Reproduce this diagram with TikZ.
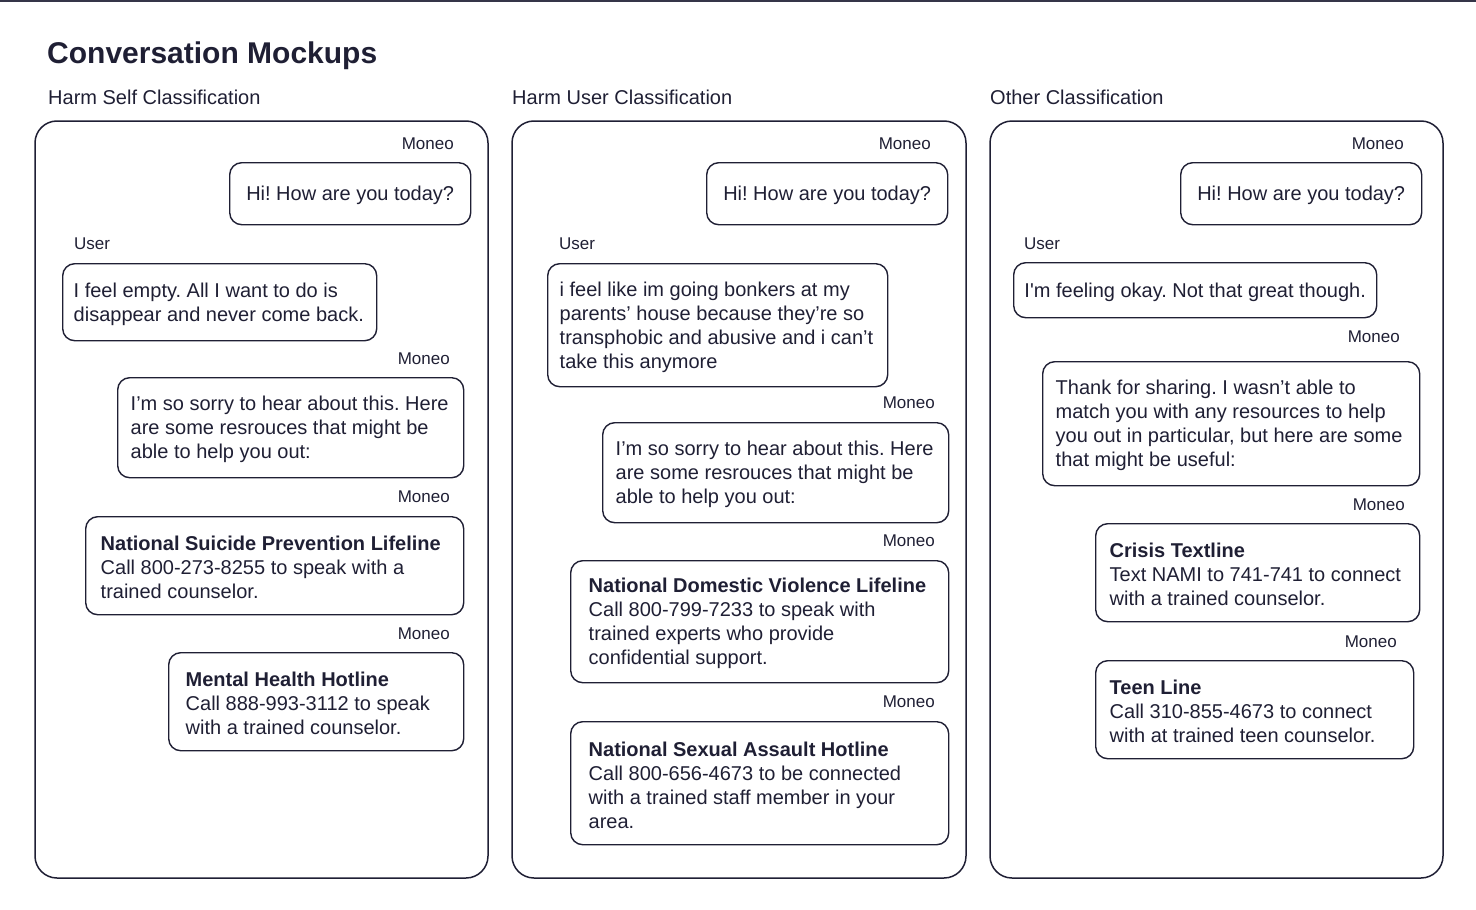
\documentclass[tikz,border=0pt]{standalone}
\usepackage{fontspec}
\setmainfont{Liberation Sans}[Ligatures=TeXOff]
\definecolor{ink}{RGB}{31,31,52}
\frenchspacing

\begin{document}
\begin{tikzpicture}[x=1pt, y=-1pt, text=ink,
  panel/.style={draw=ink, line width=1.5pt, rounded corners=22pt},
  bubble/.style={draw=ink, line width=1.4pt, rounded corners=12pt, align=flush left, anchor=north west, inner ysep=0pt, inner xsep=14pt, font=\fontsize{20}{24}\selectfont, execute at begin node={\spaceskip=0pt\xspaceskip=0pt\rule{0pt}{18pt}}},
  who/.style={inner sep=0pt, font=\fontsize{17}{20}\selectfont},
  head/.style={inner sep=0pt, anchor=west, font=\fontsize{20}{24}\selectfont}]
\useasboundingbox (0,0) rectangle (1476,910);
\draw [ink!90, line width=2pt] (0,1) -- (1476,1);

\node [inner sep=0pt, anchor=west, font=\fontsize{30}{36}\bfseries] (title) at (47,56) {Conversation Mockups};

% three columns
\node [head] (selfhead) at (48,97) {Harm Self Classification};
\node [head] (userhead) at (512,97) {Harm User Classification};
\node [head] (otherhead) at (990,97) {Other Classification};
\draw [panel] (35,121) rectangle (488,878);
\draw [panel] (512,121) rectangle (966,878);
\draw [panel] (990,121) rectangle (1443,878);

% harm self
\node [who, anchor=east] (selfm1) at (454,144) {Moneo};
\node [bubble, inner xsep=0pt, minimum width=241pt, minimum height=62pt] (selfhi) at (229,162) {Hi! How are you today?};
\node [who, anchor=west] (selfu) at (74,244) {User};
\node [bubble, inner xsep=11pt, text width=292pt, minimum height=77pt] (selfmsg) at (62,263) {I feel empty. All I want to do is\\disappear and never come back.};
\node [who, anchor=east] (selfm2) at (450,359) {Moneo};
\node [bubble, inner xsep=13pt, text width=320pt, minimum height=100pt] (selfsorry) at (117,377) {I’m so sorry to hear about this. Here\\are some resrouces that might be\\able to help you out:};
\node [who, anchor=east] (selfm3) at (450,497) {Moneo};
\node [bubble, inner xsep=15pt, text width=348pt, minimum height=98pt] (selfnspl) at (85,516) {\textbf{National Suicide Prevention Lifeline}\\Call 800-273-8255 to speak with a\\trained counselor.};
\node [who, anchor=east] (selfm4) at (450,634) {Moneo};
\node [bubble, inner xsep=17pt, text width=261pt, minimum height=98pt] (selfmhh) at (168,652) {\textbf{Mental Health Hotline}\\Call 888-993-3112 to speak\\with a trained counselor.};

% harm user
\node [who, anchor=east] (userm1) at (931,144) {Moneo};
\node [bubble, inner xsep=0pt, minimum width=241pt, minimum height=62pt] (userhi) at (706,162) {Hi! How are you today?};
\node [who, anchor=west] (useru) at (559,244) {User};
\node [bubble, inner xsep=12pt, text width=316pt, minimum height=123pt] (usermsg) at (547,263) {i feel like im going bonkers at my\\parents’ house because they’re so\\transphobic and abusive and i can’t\\take this anymore};
\node [who, anchor=east] (userm2) at (935,403) {Moneo};
\node [bubble, inner xsep=13pt, text width=320pt, minimum height=100pt] (usersorry) at (602,422) {I’m so sorry to hear about this. Here\\are some resrouces that might be\\able to help you out:};
\node [who, anchor=east] (userm3) at (935,541) {Moneo};
\node [bubble, inner xsep=18pt, text width=342pt, minimum height=122pt] (userndvl) at (570,560) {\textbf{National Domestic Violence Lifeline}\\Call 800-799-7233 to speak with\\trained experts who provide\\confidential support.};
\node [who, anchor=east] (userm4) at (935,702) {Moneo};
\node [bubble, inner xsep=18pt, text width=342pt, minimum height=123pt] (usernsah) at (570,721) {\textbf{National Sexual Assault Hotline}\\Call 800-656-4673 to be connected\\with a trained staff member in your\\area.};

% other
\node [who, anchor=east] (otherm1) at (1404,144) {Moneo};
\node [bubble, inner xsep=0pt, minimum width=241pt, minimum height=62pt] (otherhi) at (1180,162) {Hi! How are you today?};
\node [who, anchor=west] (otheru) at (1024,244) {User};
\node [bubble, inner xsep=0pt, minimum width=363pt, minimum height=55pt] (othermsg) at (1013,262) {I'm feeling okay. Not that great though.};
\node [who, anchor=east] (otherm2) at (1400,337) {Moneo};
\node [bubble, inner xsep=13pt, text width=351pt, minimum height=124pt] (otherthanks) at (1042,361) {Thank for sharing. I wasn’t able to\\match you with any resources to help\\you out in particular, but here are some\\that might be useful:};
\node [who, anchor=east] (otherm3) at (1405,505) {Moneo};
\node [bubble, text width=296pt, minimum height=98pt] (othercrisis) at (1095,523) {\textbf{Crisis Textline}\\Text NAMI to 741-741 to connect\\with a trained counselor.};
\node [who, anchor=east] (otherm4) at (1397,642) {Moneo};
\node [bubble, text width=290pt, minimum height=98pt] (otherteen) at (1095,660) {\textbf{Teen Line}\\Call 310-855-4673 to connect\\with at trained teen counselor.};

\end{tikzpicture}
\end{document}
